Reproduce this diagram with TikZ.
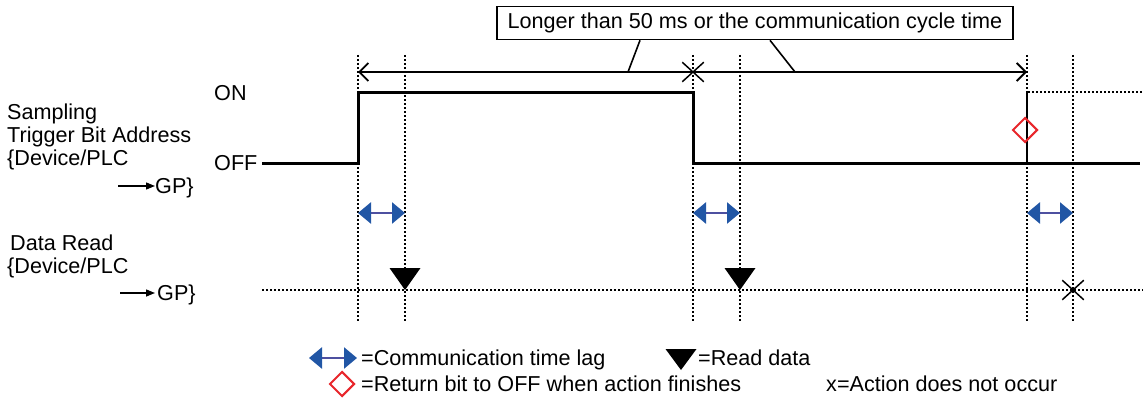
\documentclass[tikz,border=0pt]{standalone}
\usepackage{fontspec}
\setmainfont{Liberation Sans}
\usetikzlibrary{arrows.meta,shapes.geometric,shapes.misc}

\definecolor{lagblue}{RGB}{33,86,165}
\definecolor{lagshaft}{RGB}{78,80,160}
\definecolor{markred}{RGB}{232,38,43}

\begin{document}
\begin{tikzpicture}[x=1pt,y=-1pt,font=\fontsize{21.6}{25}\selectfont,
    txt/.style={inner sep=0pt,text height=15.5pt,text depth=0pt,anchor=west},
    sig/.style={line width=3pt},
    guide/.style={line width=1.6pt,dash pattern=on 1.6pt off 2.4pt},
    dimline/.style={line width=1.8pt,{Straight Barb[length=9pt,width=18pt]}-{Straight Barb[length=9pt,width=18pt]}},
    lagarrow/.style={lagshaft,line width=2.6pt,
      {Triangle[length=13pt,width=21pt,color=lagblue]}-{Triangle[length=13pt,width=21pt,color=lagblue]}},
    xmark/.style={cross out,draw,line width=1.5pt,minimum width=20pt,minimum height=18pt,inner sep=0pt},
    retmark/.style={diamond,draw=markred,line width=2pt,minimum width=25pt,minimum height=25pt,inner sep=0pt},
    gparrow/.style={line width=1.4pt,-{Triangle[length=9pt,width=7pt]}},
    notebox/.style={draw,line width=1.6pt,minimum width=516pt,minimum height=33pt,inner sep=0pt}]
    \useasboundingbox (0,0) rectangle (1143,404);

    % Time marks and levels
    \coordinate (t1) at (358,0);
    \coordinate (d1) at (405,0);
    \coordinate (t2) at (693,0);
    \coordinate (d2) at (740,0);
    \coordinate (t3) at (1027,0);
    \coordinate (d3) at (1073,0);
    \coordinate (top) at (0,55);
    \coordinate (bot) at (0,322);
    \coordinate (dim) at (0,72);
    \coordinate (on) at (0,92);
    \coordinate (off) at (0,163);
    \coordinate (lag) at (0,213);
    \coordinate (data) at (0,290);

    % Draw the dotted guide lines
    \draw[guide] (t1 |- top) -- (t1 |- bot);
    \draw[guide] (d1 |- top) -- (d1 |- bot);
    \draw[guide] (t2 |- top) -- (t2 |- bot);
    \draw[guide] (d2 |- top) -- (d2 |- bot);
    \draw[guide] (t3 |- top) -- (t3 |- bot);
    \draw[guide] (d3 |- top) -- (d3 |- bot);

    % Left labels
    \node[txt] (s1) at (7,112) {Sampling};
    \node[txt] (s2) at (7,135) {Trigger Bit Address};
    \node[txt] (s3) at (7,158) {\{Device/PLC};
    \node[txt] (s4) at (155,186) {GP\}};
    \coordinate (s4a) at (118,186);
    \draw[gparrow] (s4a) -- (s4.west);
    \node[txt] (r1) at (10,243) {Data Read};
    \node[txt] (r2) at (7,266) {\{Device/PLC};
    \node[txt] (r3) at (157,293) {GP\}};
    \coordinate (r3a) at (120,293);
    \draw[gparrow] (r3a) -- ([xshift=-2pt]r3.west);
    \node[txt] (onlbl) at (214,93) {ON};
    \node[txt] (offlbl) at (214,163) {OFF};

    % Trigger bit signal
    \coordinate (sigstart) at (262,163);
    \coordinate (sigend) at (1140,163);
    \draw[sig] (sigstart) -- (t1 |- off) -- (t1 |- on) -- (t2 |- on) -- (t2 |- off) -- (sigend);
    \coordinate (ontail) at (1143,92);
    \draw[guide] (t3 |- off) -- (t3 |- on) -- (ontail);
    \node[retmark] (ret) at (1025,130) {};

    % Time span and note
    \draw[dimline] (t1 |- dim) -- (t3 |- dim);
    \node[xmark] (x1) at (t2 |- dim) {};
    \node[notebox] (note) at (755,23) {Longer than 50 ms or the communication cycle time};
    \coordinate (c1) at (628,72);
    \coordinate (c2) at (795,72);
    \draw[line width=1.6pt] ([xshift=-115pt]note.south) -- (c1);
    \draw[line width=1.6pt] ([xshift=15pt]note.south) -- (c2);

    % Communication time lag
    \draw[lagarrow] (t1 |- lag) -- (d1 |- lag);
    \draw[lagarrow] (t2 |- lag) -- (d2 |- lag);
    \draw[lagarrow] (t3 |- lag) -- (d3 |- lag);

    % Data read line
    \coordinate (datastart) at (262,290);
    \coordinate (dataend) at (1143,290);
    \draw[guide] (datastart) -- (dataend);
    \fill (d1 |- data) -- ++(-15.5,-22) -- ++(31,0) -- cycle;
    \fill (d2 |- data) -- ++(-15.5,-22) -- ++(31,0) -- cycle;
    \node[xmark] (x2) at (d3 |- data) {};

    % Legend
    \coordinate (la) at (309,358);
    \coordinate (lb) at (357,358);
    \draw[lagarrow] (la) -- (lb);
    \node[txt] (l1) at (361,358) {=Communication time lag};
    \coordinate (lt) at (681,370);
    \fill (lt) -- ++(-15.5,-21) -- ++(31,0) -- cycle;
    \node[txt] (l2) at (698,358) {=Read data};
    \node[retmark] (lr) at (342,384) {};
    \node[txt] (l3) at (361,384) {=Return bit to OFF when action finishes};
    \node[txt] (l4) at (826,384) {x=Action does not occur};
\end{tikzpicture}
\end{document}
